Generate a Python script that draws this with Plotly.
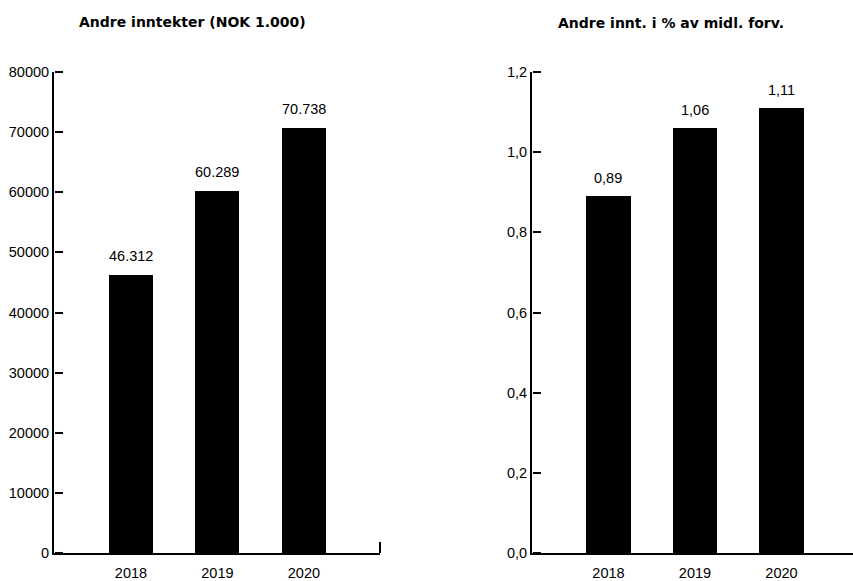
import plotly.graph_objects as go
from plotly.subplots import make_subplots

years = ["2018", "2019", "2020"]
income_nok_k = [46312, 60289, 70738]
income_pct = [0.89, 1.06, 1.11]

left_title = "Andre inntekter (NOK 1.000)"
right_title = "Andre innt. i % av midl. forv."

W, H = 853, 581
FONT = "Liberation Sans, Arial, Helvetica, sans-serif"
TITLE_FONT = "DejaVu Sans, Liberation Sans, sans-serif"

fig = make_subplots(rows=1, cols=2)

fig.add_trace(go.Bar(x=years, y=income_nok_k, marker=dict(color="black", line=dict(width=0)),
                     width=0.51, showlegend=False), row=1, col=1)
fig.add_trace(go.Bar(x=years, y=income_pct, marker=dict(color="black", line=dict(width=0)),
                     width=0.51, showlegend=False), row=1, col=2)

ydom = [1 - 553 / H, 1 - 72 / H]
left_x0, right_x0 = 54 / W, 532 / W
axis_common = dict(showline=True, linecolor="black", linewidth=2, showgrid=False,
                   zeroline=False, tickfont=dict(family=FONT, size=14.5, color="black"))

fig.update_xaxes(type="category", domain=[left_x0, 380 / W], range=[-0.89, 2.88], ticks="",
                 ticklabelstandoff=6, **axis_common, row=1, col=1)
fig.update_xaxes(type="category", domain=[right_x0, 1.0], range=[-0.884, 2.827], ticks="",
                 ticklabelstandoff=6, **axis_common, row=1, col=2)
fig.update_yaxes(type="linear", domain=ydom, range=[0, 80000], tickmode="linear", tick0=0,
                 dtick=10000, tickformat="d", ticks="", **axis_common, row=1, col=1)
fig.update_yaxes(type="linear", domain=ydom, range=[0, 1.2], tickmode="linear", tick0=0,
                 dtick=0.2, tickformat=".1f", ticks="", **axis_common, row=1, col=2)

# Tick marks pointing into each panel, carried by label-free twin axes
tick_twin = dict(anchor="free", side="right", tickmode="linear", tick0=0, ticks="outside",
                 ticklen=8, tickwidth=2, tickcolor="black", showticklabels=False,
                 showline=False, showgrid=False, zeroline=False)
fig.update_layout(
    yaxis3=dict(overlaying="y", position=left_x0, range=[0, 80000], dtick=10000, **tick_twin),
    yaxis4=dict(overlaying="y2", position=right_x0, range=[0, 1.2], dtick=0.2, **tick_twin),
)
fig.add_trace(go.Scatter(x=[], y=[], xaxis="x", yaxis="y3", showlegend=False))
fig.add_trace(go.Scatter(x=[], y=[], xaxis="x2", yaxis="y4", showlegend=False))

# Value labels above the bars (category axes take the category index)
label_font = dict(family=FONT, size=14.5, color="black")
for i, v in enumerate(income_nok_k):
    fig.add_annotation(x=i, y=v, xref="x", yref="y", text=f"{v:,}".replace(",", "."),
                       showarrow=False, yanchor="middle", yshift=19, font=label_font)
for i, v in enumerate(income_pct):
    fig.add_annotation(x=i, y=v, xref="x2", yref="y2", text=f"{v:.2f}".replace(".", ","),
                       showarrow=False, yanchor="middle", yshift=18, font=label_font)

# Panel titles
title_font = dict(family=TITLE_FONT, size=14, color="black", weight="bold")
fig.add_annotation(x=192 / W, y=1 - 22 / H, xref="paper", yref="paper",
                   text=left_title, showarrow=False, font=title_font,
                   xanchor="center", yanchor="middle")
fig.add_annotation(x=671 / W, y=1 - 23 / H, xref="paper", yref="paper",
                   text=right_title, showarrow=False, font=title_font,
                   xanchor="center", yanchor="middle")

# Small end tick closing the left category axis
fig.add_shape(type="line", xref="x domain", yref="y domain", x0=1, x1=1, y0=0, y1=11 / 481,
              line=dict(color="black", width=2))

fig.update_layout(width=W, height=H, margin=dict(l=0, r=0, t=0, b=0, autoexpand=False),
                  plot_bgcolor="white", paper_bgcolor="white", separators=",.",
                  font=dict(family=FONT, color="black"), bargap=0)

fig.write_html("out.html")
